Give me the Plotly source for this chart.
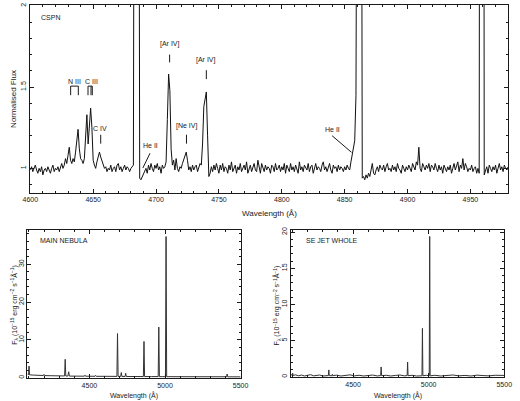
import plotly.graph_objects as go

# ---------------- DATA ----------------
# Top panel: CSPN normalised spectrum, 1 A sampling starting at 4600 A
CSPN_START = 4600
CSPN_FLUX = [
    0.99, 1.01, 0.98, 1.00, 1.02, 0.99, 0.97, 1.00, 0.98, 1.01,  # 4600
    0.96, 0.99, 1.00, 0.98, 1.01, 0.99, 0.97, 1.00, 1.02, 0.98,  # 4610
    1.00, 0.99, 1.01, 0.98, 1.00, 1.03, 1.00, 1.02, 1.06, 1.03,  # 4620
    1.08, 1.13, 1.05, 1.03, 1.06, 1.04, 1.10, 1.18, 1.24, 1.12,  # 4630
    1.06, 1.05, 1.03, 1.06, 1.20, 1.33, 1.15, 1.30, 1.37, 1.25,  # 4640
    1.05, 1.02, 1.00, 1.04, 1.08, 1.10, 1.07, 1.05, 1.03, 1.00,  # 4650
    1.01, 0.98, 1.00, 0.99, 1.02, 0.98, 1.00, 1.01, 0.98, 1.02,  # 4660
    1.03, 0.99, 1.01, 0.98, 1.00, 1.02, 0.99, 1.01, 1.00, 0.98,  # 4670
    1.00, 1.01, 1.02, 5.00, 9.00, 9.00, 5.00, 0.94, 0.93, 0.95,  # 4680
    0.96, 0.98, 1.00, 0.97, 1.02, 0.99, 1.03, 1.00, 0.98, 1.02,  # 4690
    1.00, 1.03, 0.99, 1.01, 0.97, 1.02, 1.00, 1.01, 1.04, 1.30,  # 4700
    1.58, 1.48, 1.12, 1.02, 1.05, 0.99, 1.06, 1.00, 0.98, 1.01,  # 4710
    1.00, 1.03, 1.05, 1.07, 1.10, 1.05, 0.99, 1.01, 0.98, 1.02,  # 4720
    0.99, 1.01, 1.02, 0.98, 1.00, 1.03, 1.02, 1.15, 1.38, 1.42,  # 4730
    1.47, 1.20, 0.95, 0.97, 1.01, 0.98, 1.02, 0.99, 1.03, 1.00,  # 4740
    0.97, 1.02, 0.99, 1.03, 0.98, 1.01, 1.00, 0.97, 1.02, 0.99,  # 4750
    1.04, 0.98, 1.00, 1.02, 0.97, 1.01, 0.99, 1.03, 0.98, 1.00,  # 4760
    1.02, 0.99, 1.04, 0.97, 1.00, 1.02, 0.98, 1.01, 1.03, 0.99,  # 4770
    0.98, 1.05, 1.00, 0.97, 1.03, 1.01, 0.98, 1.02, 0.99, 1.01,  # 4780
    1.00, 0.97, 1.02, 1.01, 0.98, 1.03, 0.99, 1.00, 1.02, 0.98,  # 4790
    1.01, 0.99, 1.03, 0.97, 1.02, 1.00, 0.98, 1.03, 0.99, 1.01,  # 4800
    0.98, 1.02, 1.00, 0.97, 1.04, 0.99, 1.01, 0.98, 1.02, 1.00,  # 4810
    0.99, 1.03, 0.98, 1.01, 1.02, 0.97, 1.00, 1.03, 0.99, 1.01,  # 4820
    1.00, 0.98, 1.02, 1.04, 0.99, 1.01, 0.98, 1.00, 1.03, 0.99,  # 4830
    0.97, 1.02, 1.00, 1.01, 0.98, 1.02, 0.99, 1.01, 1.00, 0.98,  # 4840
    1.01, 0.99, 1.02, 1.00, 0.99, 1.04, 1.09, 1.12, 1.17, 1.45,  # 4850
    9.00, 9.00, 9.00, 5.00, 0.94, 0.95, 0.93, 0.96, 0.94, 0.97,  # 4860
    0.95, 0.99, 1.03, 0.97, 0.96, 0.99, 1.01, 0.98, 1.02, 1.00,  # 4870
    0.99, 1.02, 0.98, 1.01, 1.03, 0.99, 1.00, 0.98, 1.02, 0.99,  # 4880
    1.01, 0.98, 1.03, 1.00, 0.99, 0.97, 1.02, 1.00, 0.98, 1.01,  # 4890
    0.99, 1.02, 1.00, 0.98, 1.03, 1.01, 0.99, 1.04, 1.02, 1.13,  # 4900
    1.00, 0.98, 1.03, 1.01, 0.99, 1.02, 1.00, 1.03, 0.98, 1.02,  # 4910
    1.01, 0.99, 1.03, 1.00, 0.98, 1.02, 0.99, 1.01, 0.97, 1.02,  # 4920
    1.00, 0.98, 1.01, 0.99, 1.02, 0.97, 1.00, 1.03, 0.99, 1.01,  # 4930
    1.04, 0.98, 1.02, 1.00, 1.06, 0.99, 1.03, 1.01, 0.98, 1.00,  # 4940
    0.99, 1.02, 0.98, 1.00, 1.01, 0.97, 1.00, 0.97, 9.00, 9.00,  # 4950
    9.00, 0.96, 0.99, 1.01, 0.97, 1.02, 1.00, 0.98, 1.01, 0.99,  # 4960
    1.02, 0.97, 1.00, 1.03, 0.99, 1.01, 0.98, 1.02, 1.00, 0.99,  # 4970
    1.01,                                                        # 4980
]
CSPN_WL = [CSPN_START + i for i in range(len(CSPN_FLUX))]

# Line identifications in the CSPN panel: label, label wavelength, label level
ID_TEXT = ["N III", "C III", "C IV", "He II", "[Ar IV]", "[Ne IV]", "[Ar IV]", "He II"]
ID_WAVE = [4635.4, 4648.5, 4655.4, 4695.4, 4710.8, 4724.2, 4740.0, 4840.0]
ID_LEVEL = [1.537, 1.537, 1.244, 1.140, 1.762, 1.262, 1.665, 1.238]

# Main nebula spectrum (10^-15 erg cm^-2 s^-1 A^-1)
MAIN_WL = [4090, 4095, 4098, 4101, 4104, 4130, 4160, 4196, 4200, 4204, 4240, 4280,
           4320, 4336, 4340, 4344, 4358, 4363, 4368, 4400, 4440, 4467, 4471, 4475,
           4500, 4537, 4541, 4545, 4600, 4650, 4682, 4686, 4690, 4707, 4711, 4715,
           4736, 4740, 4744, 4800, 4857, 4861, 4865, 4910, 4955, 4959, 4963, 4985,
           5003, 5007, 5011, 5100, 5200, 5300, 5407, 5411, 5415, 5450, 5500]
MAIN_FLUX = [1.00, 0.90, 0.85, 3.10, 0.80, 0.72, 0.66, 0.62, 0.90, 0.60, 0.56, 0.52,
             0.50, 0.50, 4.90, 0.48, 0.47, 1.60, 0.46, 0.45, 0.44, 0.44, 0.70, 0.43,
             0.42, 0.41, 0.65, 0.40, 0.40, 0.39, 0.38, 11.70, 0.38, 0.37, 1.40, 0.37,
             0.36, 1.20, 0.36, 0.35, 0.35, 9.60, 0.34, 0.33, 0.33, 13.40, 0.32, 0.32,
             0.31, 37.30, 0.31, 0.30, 0.29, 0.28, 0.28, 1.00, 0.27, 0.27, 0.26]

# SE jet (whole) spectrum
JET_WL = [4090, 4098, 4101, 4104, 4120, 4140, 4160, 4180, 4200, 4220, 4240, 4260,
          4280, 4300, 4320, 4337, 4340, 4343, 4360, 4363, 4366, 4390, 4420, 4450,
          4480, 4510, 4540, 4570, 4600, 4630, 4660, 4683, 4686, 4689, 4720, 4750,
          4780, 4810, 4840, 4858, 4861, 4864, 4890, 4920, 4956, 4959, 4962, 4985,
          5004, 5007, 5010, 5040, 5080, 5120, 5160, 5200, 5240, 5280, 5320, 5360,
          5400, 5440, 5480, 5500]
JET_FLUX = [0.30, 0.25, 0.50, 0.20, 0.28, 0.15, 0.25, 0.12, 0.22, 0.30, 0.14, 0.20,
            0.26, 0.12, 0.20, 0.18, 0.96, 0.18, 0.15, 0.35, 0.16, 0.24, 0.12, 0.20,
            0.28, 0.14, 0.22, 0.12, 0.20, 0.25, 0.13, 0.18, 1.37, 0.17, 0.22, 0.12,
            0.20, 0.26, 0.14, 0.18, 2.05, 0.16, 0.22, 0.12, 0.15, 6.70, 0.15, 0.22,
            0.14, 19.40, 0.14, 0.22, 0.12, 0.20, 0.26, 0.14, 0.20, 0.12, 0.24, 0.18,
            0.14, 0.22, 0.16, 0.20]

TOP_XTICKS = [4600, 4650, 4700, 4750, 4800, 4850, 4900, 4950]
TOP_YTICKS = [1, 1.5, 2]
TOP_YTICKTEXT = ["1", "1.5", "2"]
BOT_XTICKS = [4500, 5000, 5500]
MAIN_YTICKS = [0, 10, 20, 30]
JET_YTICKS = [0, 5, 10, 15, 20]

# ---------------- FIGURE ----------------
W, H = 520, 401
FONT = "Liberation Sans, Arial, sans-serif"
INK = "#1a1a1a"

fig = go.Figure()
fig.add_trace(go.Scatter(x=CSPN_WL, y=CSPN_FLUX, mode="lines",
                         line=dict(color="#111111", width=1), xaxis="x", yaxis="y",
                         showlegend=False, hoverinfo="skip"))
fig.add_trace(go.Scatter(x=MAIN_WL, y=MAIN_FLUX, mode="lines",
                         line=dict(color="#333333", width=1), xaxis="x2", yaxis="y2",
                         showlegend=False, hoverinfo="skip"))
fig.add_trace(go.Scatter(x=JET_WL, y=JET_FLUX, mode="lines",
                         line=dict(color="#333333", width=1), xaxis="x3", yaxis="y3",
                         showlegend=False, hoverinfo="skip"))


def px_x(p):
    return p / W


def px_y(p):
    return 1 - p / H


common = dict(showline=True, linecolor=INK, linewidth=1, mirror="allticks",
              ticks="inside", ticklen=4, tickwidth=1, tickcolor=INK,
              showgrid=False, zeroline=False,
              tickfont=dict(family=FONT, size=7, color=INK))

fig.update_layout(
    width=W, height=H, margin=dict(l=0, r=0, t=0, b=0),
    paper_bgcolor="white", plot_bgcolor="white",
    font=dict(family=FONT, size=7, color=INK),
    xaxis=dict(domain=[px_x(23), px_x(516)], range=[4600, 4980], anchor="y",
               tickvals=TOP_XTICKS,
               minor=dict(ticks="inside", dtick=10, ticklen=2, tickcolor=INK), **common),
    yaxis=dict(domain=[px_y(192), px_y(2)], range=[0.848, 2.005], anchor="x",
               tickvals=TOP_YTICKS, ticktext=TOP_YTICKTEXT, tickangle=-90,
               minor=dict(ticks="inside", dtick=0.1, tick0=0, ticklen=2, tickcolor=INK),
               **common),
    xaxis2=dict(domain=[px_x(20), px_x(240)], range=[4090, 5500], anchor="y2",
                tickvals=BOT_XTICKS,
                minor=dict(ticks="inside", dtick=100, tick0=4000, ticklen=2, tickcolor=INK),
                **common),
    yaxis2=dict(domain=[px_y(379), px_y(229)], range=[-0.1, 39.1], anchor="x2",
                tickvals=MAIN_YTICKS, tickangle=-90,
                minor=dict(ticks="inside", dtick=2, tick0=0, ticklen=2, tickcolor=INK),
                **common),
    xaxis3=dict(domain=[px_x(292), px_x(512)], range=[4090, 5500], anchor="y3",
                tickvals=BOT_XTICKS,
                minor=dict(ticks="inside", dtick=100, tick0=4000, ticklen=2, tickcolor=INK),
                **common),
    yaxis3=dict(domain=[px_y(378), px_y(229)], range=[-0.05, 20.33], anchor="x3",
                tickvals=JET_YTICKS, tickangle=-90,
                minor=dict(ticks="inside", dtick=1, tick0=0, ticklen=2, tickcolor=INK),
                **common),
)

ann = []


def paper_text(x, y, text, size=8, angle=0, xanchor="center"):
    ann.append(dict(x=px_x(x), y=px_y(y), xref="paper", yref="paper", text=text,
                    showarrow=False, textangle=angle, xanchor=xanchor, yanchor="middle",
                    font=dict(family=FONT, size=size, color=INK)))


# axis titles
paper_text(5, 97, "Normalised Flux", size=8, angle=-90)
paper_text(270, 213, "Wavelength (Å)", size=8)
paper_text(130, 396, "Wavelength (Å)", size=7)
paper_text(402, 396, "Wavelength (Å)", size=7)
flux_title = "F<sub>λ</sub> (10<sup>−15</sup> erg cm<sup>−2</sup> s<sup>−1</sup>Å<sup>−1</sup>)"
paper_text(7, 305, flux_title, size=7, angle=-90)
paper_text(278, 305, flux_title, size=7, angle=-90)
# panel labels
paper_text(32, 15, "CSPN", size=7, xanchor="left")
paper_text(31, 240, "MAIN NEBULA", size=7, xanchor="left")
paper_text(305, 240, "SE JET WHOLE", size=7, xanchor="left")

# line identification labels (data coordinates)
for t, wv, lv in zip(ID_TEXT, ID_WAVE, ID_LEVEL):
    ann.append(dict(x=wv, y=lv, xref="x", yref="y", text=t, showarrow=False,
                    xanchor="center", yanchor="middle",
                    font=dict(family=FONT, size=7, color=INK)))
fig.update_layout(annotations=ann)

# identification markers
shapes = []


def seg(x0, y0, x1, y1):
    shapes.append(dict(type="line", xref="x", yref="y", x0=x0, y0=y0, x1=x1, y1=y1,
                       line=dict(color=INK, width=1)))


# N III bracket
seg(ID_WAVE[0] - 3.3, 1.45, ID_WAVE[0] - 3.3, 1.506)
seg(ID_WAVE[0] - 3.3, 1.506, ID_WAVE[0] + 2.8, 1.506)
seg(ID_WAVE[0] + 2.8, 1.506, ID_WAVE[0] + 2.8, 1.45)
# C III bracket (double right leg)
seg(ID_WAVE[1] - 2.6, 1.45, ID_WAVE[1] - 2.6, 1.506)
seg(ID_WAVE[1] - 2.6, 1.506, ID_WAVE[1] + 0.8, 1.506)
seg(ID_WAVE[1] + 0.8, 1.506, ID_WAVE[1] + 0.8, 1.45)
seg(ID_WAVE[1] - 0.2, 1.506, ID_WAVE[1] - 0.2, 1.45)
# single ticks
seg(ID_WAVE[2] + 0.6, 1.207, ID_WAVE[2] + 0.6, 1.152)
seg(ID_WAVE[4], 1.700, ID_WAVE[4], 1.652)
seg(ID_WAVE[5], 1.207, ID_WAVE[5], 1.152)
seg(ID_WAVE[6], 1.604, ID_WAVE[6], 1.549)
# He II pointers
seg(4695.2, 1.093, 4689.5, 1.002)
seg(4840.0, 1.201, 4855.4, 1.099)
fig.update_layout(shapes=shapes)

fig.write_html("out.html", config={"displayModeBar": False},
               post_script="document.body.style.margin='0';document.body.style.padding='0';")
